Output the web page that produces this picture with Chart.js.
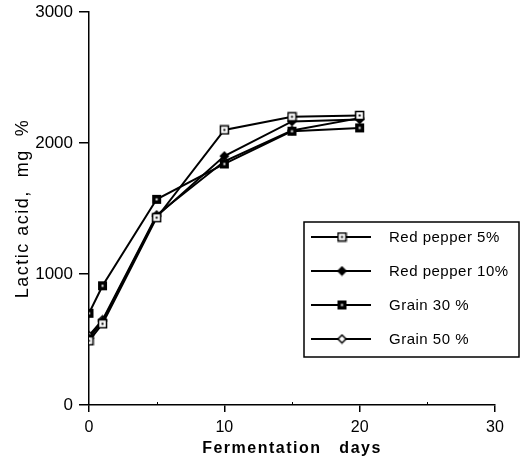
<!DOCTYPE html>
<html>
<head>
<meta charset="utf-8">
<script src="https://cdn.jsdelivr.net/npm/chart.js@4.4.1/dist/chart.umd.min.js"></script>
<style>
  html, body { margin: 0; padding: 0; background: #fff; }
  #wrap { width: 524px; height: 461px; position: relative; }
</style>
</head>
<body>
<div id="wrap"><canvas id="c" width="524" height="461"></canvas></div>
<script>
// ---- data ----
const days = [0, 1, 5, 10, 15, 20];
const seriesNames = ['Red pepper 5%', 'Red pepper 10%', 'Grain 30 %', 'Grain 50 %'];
const redPepper5 = [490, 620, 1430, 2100, 2200, 2210];
const redPepper10 = [510, 640, 1440, 1900, 2165, 2180];
const grain30 = [700, 910, 1570, 1840, 2090, 2115];
const grain50 = [530, 650, 1450, 1860, 2095, 2190];
const xTicks = [0, 10, 20, 30];
const xMinorTicks = [5, 15, 25];
const yTicks = [0, 1000, 2000, 3000];
const xTitle = 'Fermentation   days';
const yTitle = 'Lactic acid,  mg  %';

const FONT = '"Liberation Sans", Arial, Helvetica, sans-serif';

// ---- marker images ----
function makeMarker(kind) {
  const s = 11;
  const cv = document.createElement('canvas');
  cv.width = s; cv.height = s;
  const g = cv.getContext('2d');
  const c = s / 2;
  g.lineWidth = 1.5;
  g.strokeStyle = '#000';
  if (kind === 'sqOpen') {
    g.fillStyle = '#fff';
    g.fillRect(1.5, 1.5, 8, 8);
    g.strokeRect(1.5, 1.5, 8, 8);
    g.fillStyle = '#000';
    g.fillRect(4.5, 4.5, 2, 2);
  } else if (kind === 'sqFilled') {
    g.fillStyle = '#000';
    g.fillRect(1, 1, 9, 9);
    g.fillStyle = '#fff';
    g.fillRect(4.5, 4.5, 2, 2);
  } else if (kind === 'diaFilled') {
    g.fillStyle = '#000';
    g.beginPath();
    g.moveTo(c, 0.5); g.lineTo(s - 0.5, c); g.lineTo(c, s - 0.5); g.lineTo(0.5, c);
    g.closePath(); g.fill();
  } else if (kind === 'diaOpen') {
    g.fillStyle = '#fff';
    g.beginPath();
    g.moveTo(c, 1.5); g.lineTo(s - 1.5, c); g.lineTo(c, s - 1.5); g.lineTo(1.5, c);
    g.closePath(); g.fill(); g.stroke();
  }
  return cv;
}
const markers = [makeMarker('sqOpen'), makeMarker('diaFilled'), makeMarker('sqFilled'), makeMarker('diaOpen')];
const allSeries = [redPepper5, redPepper10, grain30, grain50];

const datasets = allSeries.map((vals, i) => ({
  label: seriesNames[i],
  data: days.map((d, j) => ({ x: d, y: vals[j] })),
  borderColor: '#000',
  backgroundColor: '#000',
  borderWidth: 2,
  pointStyle: markers[i],
  pointRadius: 5,
  tension: 0,
  fill: false
}));

const decor = {
  id: 'decor',
  beforeDraw(chart) {
    chart.ctx.letterSpacing = '0px';
  },
  afterDraw(chart) {
    const ctx = chart.ctx;
    const xs = chart.scales.x, ys = chart.scales.y;
    ctx.save();
    // minor x ticks
    ctx.strokeStyle = '#000';
    ctx.lineWidth = 1;
    xMinorTicks.forEach(v => {
      const px = Math.round(xs.getPixelForValue(v)) + 0.5;
      ctx.beginPath();
      ctx.moveTo(px, ys.bottom);
      ctx.lineTo(px, ys.bottom - 3);
      ctx.stroke();
    });
    // axis titles
    ctx.fillStyle = '#000';
    ctx.letterSpacing = '1.5px';
    ctx.font = 'bold 16px ' + FONT;
    ctx.textAlign = 'center';
    ctx.textBaseline = 'middle';
    ctx.fillText(xTitle, (chart.chartArea.left + chart.chartArea.right) / 2, 449);
    ctx.save();
    ctx.translate(23, (chart.chartArea.top + chart.chartArea.bottom) / 2);
    ctx.rotate(-Math.PI / 2);
    ctx.letterSpacing = '1.5px';
    ctx.font = '18px ' + FONT;
    ctx.fillText(yTitle, 0, 0);
    ctx.restore();
    // legend box
    const bx = 304, by = 222, bw = 215, bh = 135;
    ctx.lineWidth = 1.5;
    ctx.strokeStyle = '#000';
    ctx.strokeRect(bx, by, bw, bh);
    ctx.letterSpacing = '0.5px';
    ctx.font = '15px ' + FONT;
    ctx.textAlign = 'left';
    chart.data.datasets.forEach((ds, i) => {
      const ry = 237 + i * 34;
      ctx.beginPath();
      ctx.lineWidth = 2;
      ctx.moveTo(311, ry);
      ctx.lineTo(371, ry);
      ctx.stroke();
      const m = ds.pointStyle;
      ctx.drawImage(m, 342 - m.width / 2, ry - m.height / 2);
      ctx.fillText(ds.label, 389, ry + 1);
    });
    ctx.restore();
  }
};

new Chart(document.getElementById('c'), {
  type: 'line',
  data: { datasets },
  options: {
    responsive: false,
    animation: false,
    devicePixelRatio: 1,
    layout: { padding: { top: 12, right: 29, left: 0, bottom: 0 } },
    plugins: { legend: { display: false }, tooltip: { enabled: false } },
    scales: {
      x: {
        type: 'linear',
        min: 0, max: 30,
        afterBuildTicks(scale) { scale.ticks = xTicks.map(v => ({ value: v })); },
        afterFit(scale) { scale.height = 56; scale.paddingLeft = 0; scale.paddingRight = 0; },
        ticks: { color: '#000', font: { family: FONT, size: 16 }, padding: 6, maxRotation: 0, callback: v => String(v) },
        grid: { display: true, drawOnChartArea: false, drawTicks: true, tickLength: 7, color: '#000', lineWidth: 1.5 },
        border: { display: true, color: '#000', width: 1.5 },
        title: { display: false }
      },
      y: {
        type: 'linear',
        min: 0, max: 3000,
        afterBuildTicks(scale) { scale.ticks = yTicks.map(v => ({ value: v })); },
        afterFit(scale) { scale.width = 89; scale.paddingTop = 0; scale.paddingBottom = 0; },
        ticks: { color: '#000', font: { family: FONT, size: 17 }, padding: 6, callback: v => String(v) },
        grid: { display: true, drawOnChartArea: false, drawTicks: true, tickLength: 10, color: '#000', lineWidth: 1.5 },
        border: { display: true, color: '#000', width: 1.5 },
        title: { display: false }
      }
    }
  },
  plugins: [decor]
});
</script>
</body>
</html>
